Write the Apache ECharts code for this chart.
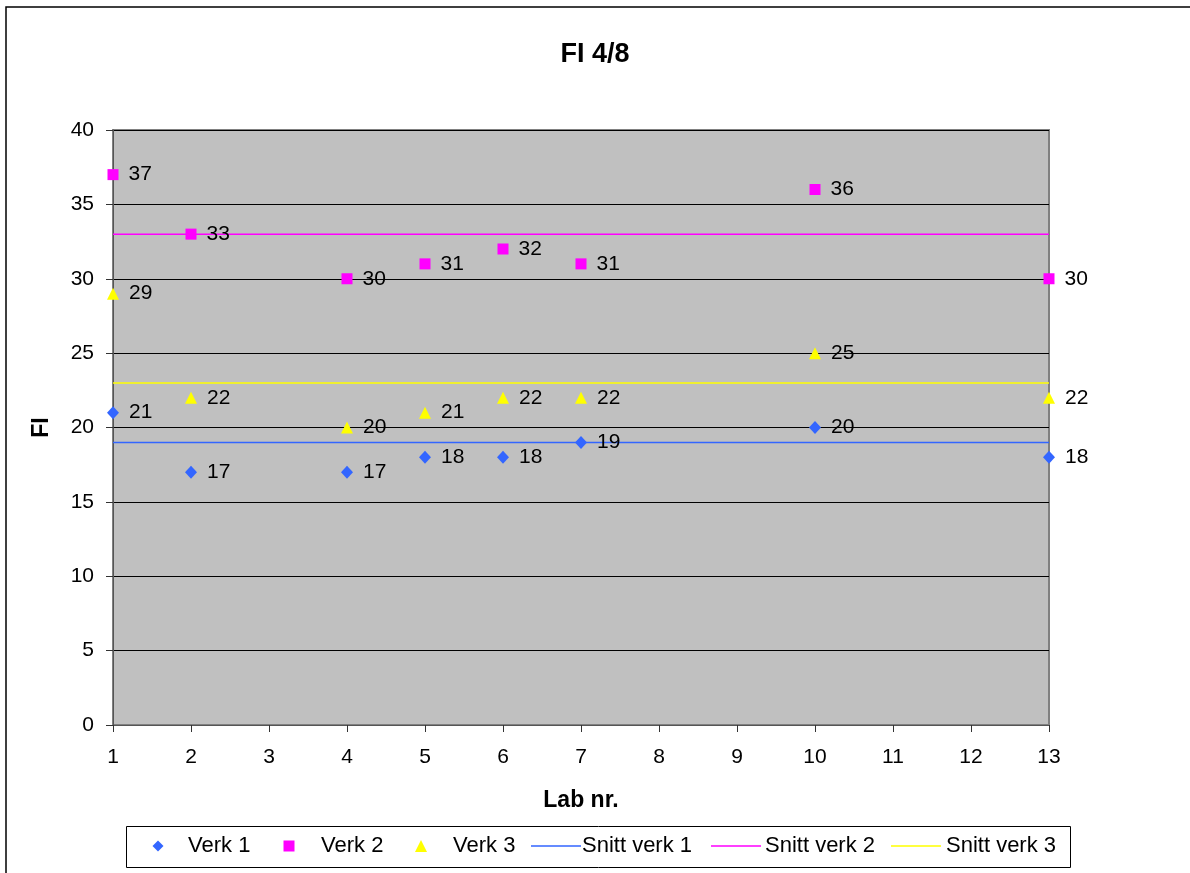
<!DOCTYPE html>
<html><head><meta charset="utf-8">
<script src="https://cdn.jsdelivr.net/npm/echarts@6/dist/echarts.min.js"></script>
<style>html,body{margin:0;padding:0;background:#fff}#c{width:1190px;height:873px}</style>
</head><body><div id="c"></div>
<script>
var labs = [1, 2, 4, 5, 6, 7, 10, 13];
var verk1 = [21, 17, 17, 18, 18, 19, 20, 18];
var verk2 = [37, 33, 30, 31, 32, 31, 36, 30];
var verk3 = [29, 22, 20, 21, 22, 22, 25, 22];
var snitt1 = 19, snitt2 = 33, snitt3 = 23;
var xRange = [1, 13];
var yRange = [0, 40];
var seriesNames = ['Verk 1', 'Verk 2', 'Verk 3', 'Snitt verk 1', 'Snitt verk 2', 'Snitt verk 3'];

var font = 'Liberation Sans, Arial, sans-serif';
var cBlue = '#3366FF', cMag = '#FF00FF', cYel = '#FFFF00';
function pts(vals){ return labs.map(function(l,i){ return [l, vals[i]]; }); }
function lineData(v){ return [[xRange[0], v],[xRange[1], v]]; }
var lbl = {show:true, position:'right', distance:10, color:'#000', fontSize:21, fontFamily:font, formatter:function(p){return p.value[1];}};

function svgIcon(inner){
  return 'image://data:image/svg+xml;charset=utf-8,' + encodeURIComponent("<svg xmlns='http://www.w3.org/2000/svg' width='50' height='14' viewBox='0 0 50 14'>" + inner + "</svg>");
}
var icons = [
  svgIcon("<path d='M25 1.5 L30.5 7 L25 12.5 L19.5 7Z' fill='" + cBlue + "'/>"),
  svgIcon("<rect x='19.5' y='1.5' width='11' height='11' fill='" + cMag + "'/>"),
  svgIcon("<path d='M25 1 L31 13 L19 13Z' fill='" + cYel + "'/>"),
  svgIcon("<rect x='0' y='6.25' width='50' height='1.5' fill='" + cBlue + "'/>"),
  svgIcon("<rect x='0' y='6.25' width='50' height='1.5' fill='" + cMag + "'/>"),
  svgIcon("<rect x='0' y='6.25' width='50' height='1.5' fill='" + cYel + "'/>")
];
var legendLeft = [133, 264, 396, 531, 711, 891];
var legendTextPad = [0, 2, 2, -4, -1, 0];
var legends = seriesNames.map(function(n, i){
  return {left:legendLeft[i], top:835, padding:0, itemWidth:50, itemHeight:14, itemGap:0,
    data:[{name:n, icon:icons[i]}],
    textStyle:{fontSize:22, fontFamily:font, color:'#000', padding:[0,0,0,legendTextPad[i]]}};
});

var chart = echarts.init(document.getElementById('c'), null, {renderer:'canvas'});
chart.setOption({
  animation:false,
  backgroundColor:'#fff',
  graphic:[
    {type:'rect', shape:{x:6,y:7,width:1200,height:900}, style:{fill:'none', stroke:'#000', lineWidth:1.5}, z:-1},
    {type:'rect', shape:{x:126.5,y:826.5,width:944,height:41}, style:{fill:'#fff', stroke:'#000', lineWidth:1}, z:-1}
  ],
  title:{text:'FI 4/8', left:'center', top:36, textStyle:{fontSize:27, fontWeight:'bold', fontFamily:font, color:'#000'}},
  grid:{left:113, right:141, top:130, bottom:148, show:true, backgroundColor:'#C0C0C0', borderColor:'#808080', borderWidth:2},
  xAxis:{type:'value', min:xRange[0], max:xRange[1], interval:1,
    name:'Lab nr.', nameLocation:'middle', nameGap:64, nameTextStyle:{fontSize:23, fontWeight:'bold', fontFamily:font, color:'#000'},
    axisLine:{show:true, lineStyle:{color:'#555', width:1}}, axisTick:{show:true, length:7, lineStyle:{color:'#333'}},
    axisLabel:{fontSize:21, fontFamily:font, color:'#000', margin:22}, splitLine:{show:false}},
  yAxis:{type:'value', min:yRange[0], max:yRange[1], interval:5,
    name:'FI', nameLocation:'middle', nameGap:60, nameRotate:90, nameTextStyle:{fontSize:23, fontWeight:'bold', fontFamily:font, color:'#000'},
    axisLine:{show:true, lineStyle:{color:'#555', width:1}}, axisTick:{show:true, length:7, lineStyle:{color:'#333'}},
    axisLabel:{fontSize:21, fontFamily:font, color:'#000', margin:19}, splitLine:{show:true, lineStyle:{color:'#000', width:1}}},
  legend:legends,
  series:[
    {name:'Snitt verk 1', type:'line', data:lineData(snitt1), showSymbol:false, symbol:'none', lineStyle:{color:cBlue, width:1.5}, itemStyle:{color:cBlue}, z:2},
    {name:'Snitt verk 2', type:'line', data:lineData(snitt2), showSymbol:false, symbol:'none', lineStyle:{color:cMag, width:1.5}, itemStyle:{color:cMag}, z:2},
    {name:'Snitt verk 3', type:'line', data:lineData(snitt3), showSymbol:false, symbol:'none', lineStyle:{color:cYel, width:1.5}, itemStyle:{color:cYel}, z:2},
    {name:'Verk 1', type:'scatter', data:pts(verk1), symbol:'diamond', symbolSize:[12,13], itemStyle:{color:cBlue, opacity:1}, label:lbl, z:3},
    {name:'Verk 2', type:'scatter', data:pts(verk2), symbol:'rect', symbolSize:11, itemStyle:{color:cMag, opacity:1}, label:lbl, z:3},
    {name:'Verk 3', type:'scatter', data:pts(verk3), symbol:'triangle', symbolSize:[12,12], itemStyle:{color:cYel, opacity:1}, label:lbl, z:3}
  ]
});
</script></body></html>
